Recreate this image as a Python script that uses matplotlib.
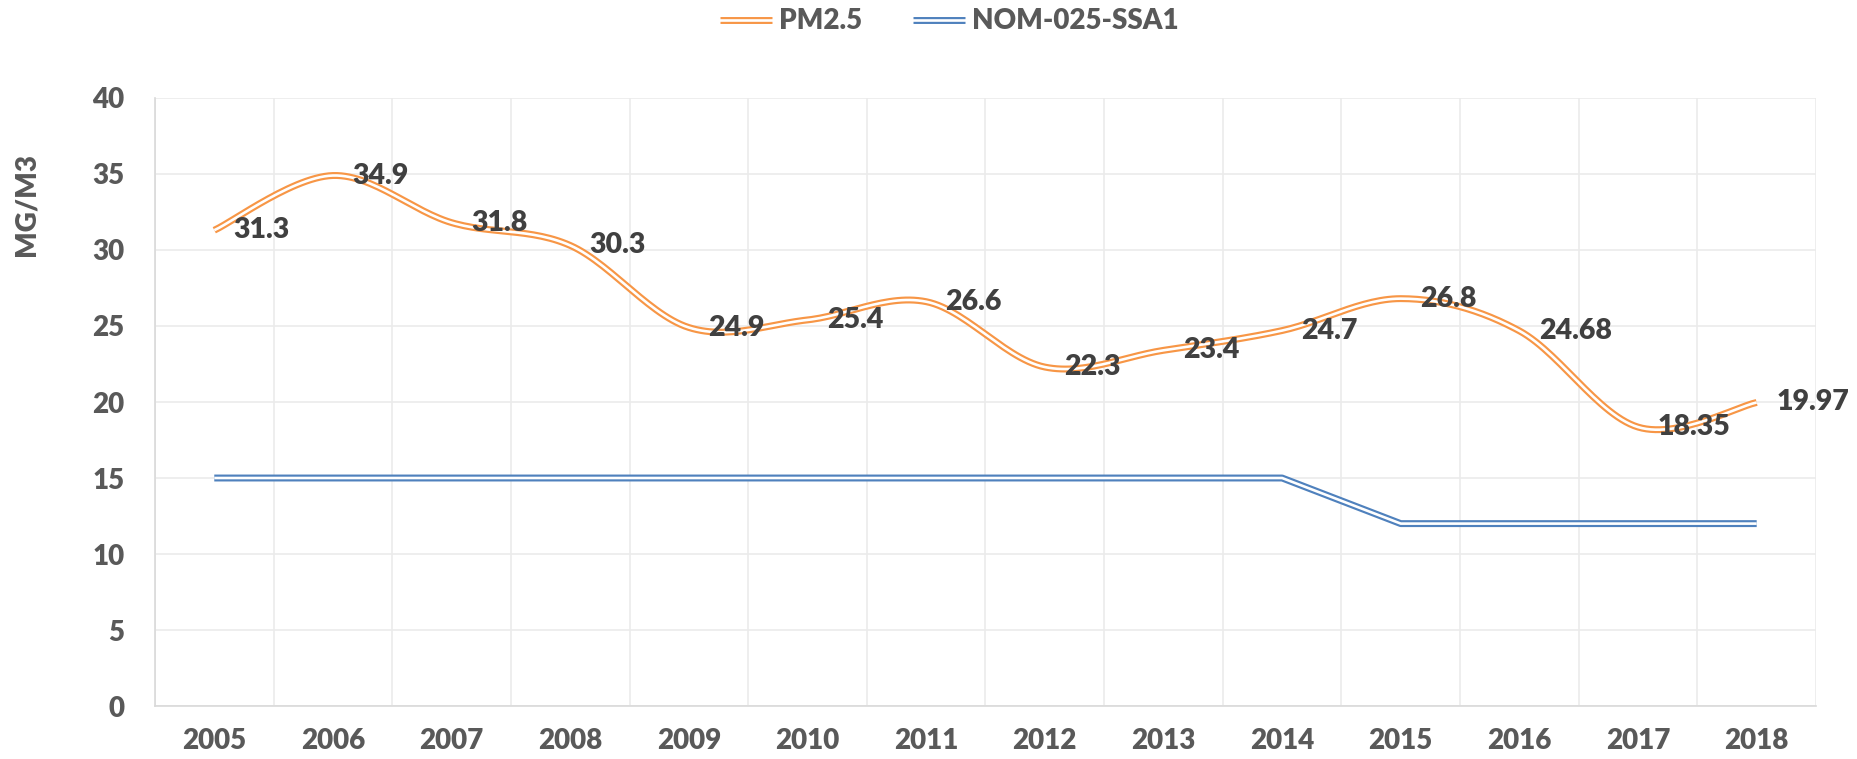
import numpy as np
import matplotlib
matplotlib.use("Agg")
import matplotlib.pyplot as plt
from matplotlib.lines import Line2D
import matplotlib.patheffects as pe

years = ["2005", "2006", "2007", "2008", "2009", "2010", "2011",
         "2012", "2013", "2014", "2015", "2016", "2017", "2018"]
pm25 = [31.3, 34.9, 31.8, 30.3, 24.9, 25.4, 26.6, 22.3, 23.4, 24.7,
        26.8, 24.68, 18.35, 19.97]
pm25_labels = ["31.3", "34.9", "31.8", "30.3", "24.9", "25.4", "26.6",
               "22.3", "23.4", "24.7", "26.8", "24.68", "18.35", "19.97"]
nom = [15, 15, 15, 15, 15, 15, 15, 15, 15, 15, 12, 12, 12, 12]
yticks = [0, 5, 10, 15, 20, 25, 30, 35, 40]

ORANGE = "#F79646"
BLUE = "#4F81BD"
TXT = "#595959"
LBL = "#404040"
WEIGHT = 800

plt.rcParams['font.family'] = ['Lato', 'DejaVu Sans']


def smooth(x, y, n=30):
    # Excel-like smoothed line (Catmull-Rom / cubic Bezier)
    x = np.asarray(x, float)
    y = np.asarray(y, float)
    P = np.column_stack([x, y])
    out = []
    for i in range(len(P) - 1):
        p0 = P[i - 1] if i > 0 else P[i]
        p1 = P[i]
        p2 = P[i + 1]
        p3 = P[i + 2] if i + 2 < len(P) else P[i + 1]
        c1 = p1 + (p2 - p0) / 6.0
        c2 = p2 - (p3 - p1) / 6.0
        t = np.linspace(0, 1, n)[:, None]
        seg = ((1 - t) ** 3) * p1 + 3 * ((1 - t) ** 2) * t * c1 + 3 * (1 - t) * t ** 2 * c2 + t ** 3 * p2
        if i > 0:
            seg = seg[1:]
        out.append(seg)
    out = np.vstack(out)
    return out[:, 0], out[:, 1]


LW_OUT = 5.0
LW_IN = 1.9


def double(color):
    return [pe.Stroke(linewidth=LW_OUT, foreground=color, capstyle='butt'), pe.Normal()]


fig = plt.figure(figsize=(18.58, 7.59), dpi=100)
ax = fig.add_axes([0.0834, 0.0698, 0.8940, 0.8011])

x = np.arange(len(years))
sx, sy = smooth(x, pm25)

l1, = ax.plot(sx, sy, color="white", lw=LW_IN, solid_capstyle='butt', zorder=3,
              path_effects=double(ORANGE))
l2, = ax.plot(x, nom, color="white", lw=LW_IN, solid_capstyle='butt', zorder=3,
              path_effects=double(BLUE))

for xi, yi, s in zip(x, pm25, pm25_labels):
    ax.annotate(s, (xi, yi), xytext=(14, 0), textcoords='offset points',
                ha='left', va='center', fontsize=20.5, fontweight=WEIGHT,
                color=LBL, zorder=5)

ax.set_xlim(-0.5, len(years) - 0.5)
ax.set_ylim(0, 40)
ax.set_yticks(yticks)
ax.set_xticks(x)
ax.set_xticklabels(years)
ax.set_xticks(np.arange(-0.5, len(years), 1.0), minor=True)
ax.tick_params(axis='both', which='both', length=0)
ax.tick_params(axis='x', which='major', pad=16, labelsize=20, labelcolor=TXT)
ax.tick_params(axis='y', which='major', pad=22, labelsize=20, labelcolor=TXT)
for lab in ax.get_xticklabels() + ax.get_yticklabels():
    lab.set_fontweight(WEIGHT)

ax.grid(axis='y', which='major', color='#EBEBEB', lw=1.2, zorder=0)
ax.grid(axis='x', which='minor', color='#EBEBEB', lw=1.2, zorder=0)
ax.grid(axis='x', which='major', visible=False)
for side in ['top', 'right']:
    ax.spines[side].set_visible(False)
for side in ['left', 'bottom']:
    ax.spines[side].set_color('#D9D9D9')
    ax.spines[side].set_linewidth(1.2)
ax.set_axisbelow(True)

fig.text(0.0145, 0.731, "MG/M3", rotation=90, ha='center', va='center',
         fontsize=20, fontweight=WEIGHT, color=TXT)

h1 = Line2D([], [], color='white', lw=LW_IN, path_effects=double(ORANGE))
h2 = Line2D([], [], color='white', lw=LW_IN, path_effects=double(BLUE))
leg = fig.legend([h1, h2], ["PM2.5", "NOM-025-SSA1"],
                 loc='center', bbox_to_anchor=(0.511, 0.972), ncol=2,
                 frameon=False, handlelength=1.87, columnspacing=1.84,
                 handletextpad=0.25,
                 prop={'size': 20, 'weight': WEIGHT})
for t in leg.get_texts():
    t.set_color(TXT)

fig.savefig("out.png", dpi=100, facecolor='white')
